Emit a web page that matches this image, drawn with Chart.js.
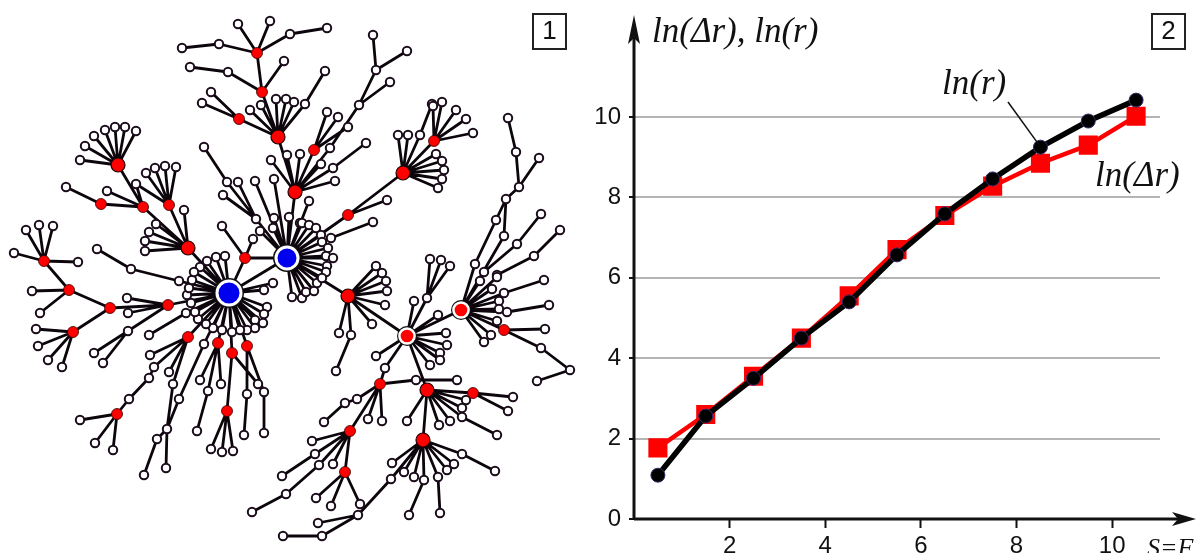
<!DOCTYPE html>
<html><head><meta charset="utf-8">
<script src="https://cdn.jsdelivr.net/npm/chart.js@4"></script>
<style>
html,body{margin:0;padding:0;background:#fff;width:1200px;height:553px;overflow:hidden}
canvas{position:absolute;top:0}
#net{left:0}#plot{left:560px}
</style></head><body>
<canvas id="net" width="600" height="553"></canvas>
<canvas id="plot" width="640" height="553"></canvas>
<script>
// ---- panel 2 data ----
const sfValues=[0.5,1.5,2.5,3.5,4.5,5.5,6.5,7.5,8.5,9.5,10.5];
const lnDeltaR=[1.77,2.6,3.55,4.5,5.55,6.7,7.55,8.28,8.85,9.3,10.02];
const lnR=[1.09,2.56,3.5,4.5,5.4,6.57,7.59,8.46,9.25,9.9,10.42];
const yTickValues=[0,2,4,6,8,10];
const xTickValues=[2,4,6,8,10];
// ---- panel 1 data: each row = parent x,y then child x,y pairs ----
const networkLinks=[
[257,53,238,24,270,21,290,34,219,44,262,92],[290,34,327,28],[219,44,182,48],
[262,92,284,61,228,72,278,137],[228,72,190,67],
[278,137,250,110,261,105,276,99,286,99,294,102,305,104,239,119,295,192],[305,104,325,71],[239,119,211,92,202,103],
[295,192,287,155,271,160,300,154,330,148,321,164,333,168,335,181,314,150,287,258],
[333,168,366,143],[314,150,327,112,338,117,348,127],[330,148,359,105],[359,105,390,82,376,70],[376,70,373,35,407,51],
[287,258,256,219,255,181,274,179,274,218,289,217,273,228,260,231,300,223,302,223,309,225,316,228,321,235,322,242,328,248,326,256,333,258,327,266,326,272,309,201,331,238,348,215,245,258,229,293,302,298,306,292,314,291,317,283,322,278,292,297,348,296],
[256,219,227,182,238,182,223,195],[227,182,204,147],[331,238,373,222],
[348,215,387,200,403,173],
[403,173,398,135,408,135,420,135,434,141,436,154,442,161,444,170,442,179,438,188],[420,135,432,104],
[434,141,442,102,456,110,466,119,473,133,433,106],
[245,258,222,226,253,239,229,293],
[508,118,516,152],[516,152,519,187],[519,187,539,158,506,199],[506,199,496,220,504,236],[496,220,475,264],[504,236,461,310],
[541,214,517,244],[517,244,484,272],[484,272,461,310],[560,230,534,256],[534,256,497,275],[475,264,461,310],
[461,310,480,281,497,277,492,289,504,293,499,301,499,309,507,312,497,321,491,335,484,342,504,330,407,336],
[504,293,544,280],[507,312,549,305],[504,330,545,329,541,348],[541,348,570,370],[570,370,537,381],
[407,336,438,315,414,301,427,298,446,333,447,345,440,353,440,360,430,365,376,356,348,296,427,390,385,368],
[427,298,430,259,441,260,450,266],
[348,296,376,266,382,273,386,281,387,291,385,305,372,324,339,333,351,335],[351,335,336,371],
[385,368,380,384],
[380,384,416,380,368,419,382,421,357,399,350,431],[357,399,345,403],[345,403,324,422],[416,380,457,380],
[350,431,312,441,315,454,319,465,333,464,345,472],[315,454,282,476],[319,465,286,494],[286,494,252,512],
[345,472,316,498,331,506,360,504],
[427,390,473,393,466,400,462,408,462,417,450,421,439,425,407,421,423,440],[473,393,513,397,508,411],[462,417,497,435],
[423,440,462,454,454,464,447,470,438,477,424,480,414,477,404,472,392,463,391,479],
[462,454,495,471],[438,477,440,513],[424,480,409,515],[391,479,358,515],[358,515,318,523,322,536],[322,536,283,536],
[229,293,267,307,264,314,263,323,255,320,255,328,247,330,240,330,232,332,222,330,213,328,206,324,198,319,195,312,191,303,187,295,189,288,192,280,179,281,200,267,207,261,216,257,225,256,194,272,186,313,168,305,188,337,204,344,218,343,232,353,247,346,188,248,273,283,264,290],
[179,281,131,269],[131,269,97,249],[186,313,149,335],
[188,248,184,210,156,224,149,232,145,241,145,251,143,207,169,205],
[143,207,107,191,136,184,101,204,118,165],[101,204,66,187],
[118,165,80,160,85,146,94,136,105,130,115,127,125,127,136,131],
[169,205,136,184,146,173,155,168,165,166,176,167],
[44,261,14,253,26,230,39,225,53,226,78,262,69,290],[69,290,32,291,40,313,110,308],[110,308,168,305,73,332],
[73,332,36,329,38,346,48,360,62,367],
[168,305,127,298,128,313,128,331],[128,331,94,353,103,363],
[188,337,150,355,169,372,173,384,154,367],[154,367,149,378],[149,378,129,399],[129,399,117,414],
[117,414,80,420,95,443,113,450],[173,384,167,429],[204,344,179,399],[179,399,167,429],
[167,429,157,439,166,468],[157,439,144,475],
[218,343,200,380,208,391,221,384],[208,391,197,431],
[232,353,258,384,227,411],[227,411,211,449,222,452,233,451],
[247,346,247,394,264,392],[258,384,264,392],[247,394,244,435],[264,392,264,433]
];
const blueHubs=[[229,293],[287,258]];
const ringedHubs=[[461,310],[407,336]];
const largeRedHubs=[[278,137],[295,192],[403,173],[118,165],[188,248],[348,296],[427,390],[423,440]];
const smallRedHubs=[[257,53],[262,92],[239,119],[314,150],[434,141],[245,258],[504,330],[380,384],[350,431],[345,472],[473,393],[143,207],[101,204],[169,205],[44,261],[69,290],[110,308],[73,332],[168,305],[188,337],[117,414],[218,343],[232,353],[247,346],[227,411],[348,215]];

const pt=a=>({x:a[0],y:a[1]});
const edgePoints=[];const seen=new Map();
networkLinks.forEach(r=>{
  for(let i=2;i<r.length;i+=2){
    edgePoints.push({x:r[0],y:r[1]},{x:r[i],y:r[i+1]},{x:NaN,y:NaN});
    seen.set(r[i]+','+r[i+1],{x:r[i],y:r[i+1]});
  }
  seen.set(r[0]+','+r[1],{x:r[0],y:r[1]});
});
const special=new Set([...blueHubs,...ringedHubs,...largeRedHubs,...smallRedHubs].map(a=>a[0]+','+a[1]));
const whiteNodes=[...seen.entries()].filter(e=>!special.has(e[0])).map(e=>e[1]);

new Chart(document.getElementById('net'),{
  type:'scatter',
  data:{datasets:[
    {label:'links',data:edgePoints,showLine:true,spanGaps:false,borderColor:'#0c060c',borderWidth:2.8,pointRadius:0,order:7},
    {label:'nodes',data:whiteNodes,backgroundColor:'#fff',borderColor:'#1a0c1a',borderWidth:2,pointRadius:4.2,order:6},
    {label:'hubOutline',data:[...blueHubs,...ringedHubs].map(pt),backgroundColor:'#111',borderColor:'#111',borderWidth:0,pointRadius:[15,14,10,10],order:5},
    {label:'ring',data:ringedHubs.map(pt),backgroundColor:'#f00',borderColor:'#fff',borderWidth:2.5,pointRadius:7.6,order:3},
    {label:'large',data:largeRedHubs.map(pt),backgroundColor:'#f00',borderColor:'#200',borderWidth:1.2,pointRadius:7,order:2},
    {label:'small',data:smallRedHubs.map(pt),backgroundColor:'#f00',borderColor:'#300',borderWidth:.8,pointRadius:5.5,order:2},
    {label:'blue',data:blueHubs.map(pt),backgroundColor:'#0000ee',borderColor:'#fff',borderWidth:3,pointRadius:[12,11],order:1}
  ]},
  options:{responsive:false,animation:false,devicePixelRatio:1,
    layout:{padding:0,autoPadding:false},
    plugins:{legend:{display:false},tooltip:{enabled:false}},
    scales:{x:{display:false,type:'linear',min:0,max:600},y:{display:false,type:'linear',min:0,max:553,reverse:true}}
  },
  plugins:[{id:'box1',afterDraw(c){
    const g=c.ctx;g.save();g.strokeStyle='#222';g.lineWidth=2;g.strokeRect(533,14,33,35);
    g.fillStyle='#111';g.font='26px "Liberation Sans"';g.textAlign='center';g.textBaseline='middle';g.fillText('1',549.5,32);
    g.restore();
  }}]
});

const ital='italic 35px "Liberation Serif"';
const annot={id:'annot',afterDraw(c){
  const g=c.ctx,xs=c.scales.x,ys=c.scales.y,ax=xs.left-40,ay=ys.bottom;
  g.save();
  g.translate(40,0);
  g.strokeStyle='#111';g.fillStyle='#111';g.lineWidth=3;
  g.beginPath();g.moveTo(ax,ay);g.lineTo(ax,30);g.moveTo(ax,ay);g.lineTo(588,ay);g.stroke();
  g.beginPath();g.moveTo(ax,15);g.lineTo(ax+6,44);g.lineTo(ax,38);g.lineTo(ax-6,44);g.closePath();g.fill();
  g.beginPath();g.moveTo(596,ay);g.lineTo(572,ay-7);g.lineTo(578,ay);g.lineTo(572,ay+7);g.closePath();g.fill();
  g.lineWidth=1.5;g.beginPath();g.moveTo(408,102);g.lineTo(xs.getPixelForValue(sfValues[8])-42,ys.getPixelForValue(lnR[8])-3);g.stroke();
  g.textBaseline='alphabetic';g.textAlign='left';g.font=ital;
  g.fillText('ln(Δr), ln(r)',52,42);
  g.fillText('ln(r)',342,94);
  g.fillText('ln(Δr)',495,186);
  g.font='italic 26px "Liberation Serif"';g.fillText('S=F',547,556);
  g.strokeStyle='#222';g.lineWidth=2;g.strokeRect(552,14,33,35);
  g.font='26px "Liberation Sans"';g.textAlign='center';g.textBaseline='middle';g.fillText('2',568.5,32);
  g.restore();
}};
new Chart(document.getElementById('plot'),{
  type:'line',
  data:{labels:sfValues,datasets:[
    {label:'ln(Δr)',data:sfValues.map((x,i)=>({x,y:lnDeltaR[i]})),borderColor:'#f00',backgroundColor:'#f00',borderWidth:4.5,pointStyle:'rect',pointRadius:13.5,pointBorderWidth:0,tension:0,order:2},
    {label:'ln(r)',data:sfValues.map((x,i)=>({x,y:lnR[i]})),borderColor:'#000',backgroundColor:'#000',borderWidth:5.5,pointStyle:'circle',pointRadius:7,pointBorderWidth:1,pointBorderColor:'#3a2a6a',tension:0,order:1}
  ]},
  options:{responsive:false,animation:false,devicePixelRatio:1,
    layout:{padding:{left:0,right:40,top:16.5,bottom:0},autoPadding:false},
    plugins:{legend:{display:false},tooltip:{enabled:false}},
    scales:{
      x:{type:'linear',min:0,max:11,afterBuildTicks(s){s.ticks=xTickValues.map(v=>({value:v}))},
        afterFit(s){s.height=34;s.paddingLeft=0;s.paddingRight=0},
        grid:{drawOnChartArea:false,drawTicks:true,tickLength:9,tickColor:'#111',tickWidth:2},
        border:{display:false},
        ticks:{color:'#111',padding:4,maxRotation:0,autoSkip:false,font:{family:'"Liberation Sans"',size:24}}},
      y:{type:'linear',min:0,max:12.5,afterBuildTicks(s){s.ticks=yTickValues.map(v=>({value:v}))},
        afterFit(s){s.width=74;s.paddingTop=0;s.paddingBottom=0},
        grid:{drawTicks:true,tickLength:5,tickColor:'#111',tickWidth:2,lineWidth:2,color:c=>c.tick&&c.tick.value===0?'transparent':'#b4b4b4'},
        border:{display:false},
        ticks:{color:'#111',padding:8,autoSkip:false,font:{family:'"Liberation Sans"',size:24}}}
    }
  },
  plugins:[annot]
});
</script>
</body></html>
